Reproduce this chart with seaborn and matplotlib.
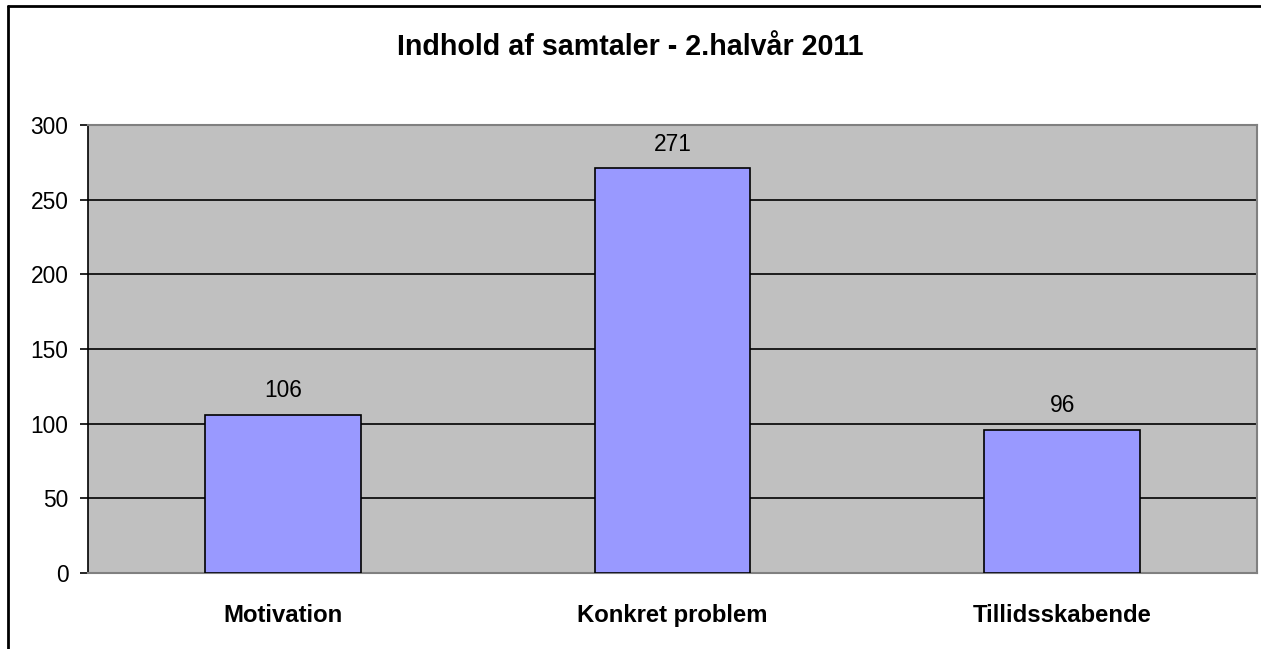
import numpy as np
import pandas as pd
import seaborn as sns
import matplotlib.pyplot as plt
from matplotlib.lines import Line2D

# data
kategorier = ['Motivation', 'Konkret problem', 'Tillidsskabende']
antal = [106, 271, 96]
y_ticks = [0, 50, 100, 150, 200, 250, 300]

df = pd.DataFrame({'kategori': kategorier, 'antal': antal})

sns.set_style('white')
plt.rcParams['font.family'] = ['Liberation Sans', 'DejaVu Sans']
plt.rcParams['text.color'] = 'black'

fig = plt.figure(figsize=(12.61, 6.49), dpi=100)
ax = fig.add_axes([88 / 1261, 76 / 649, (1257 - 88) / 1261, (573 - 125) / 649])
ax.set_facecolor('#C0C0C0')

sns.barplot(data=df, x='kategori', y='antal', color='#9999FF', width=0.4,
            edgecolor='black', linewidth=1.2, saturation=1, ax=ax, zorder=3)

ax.set_ylim(0, 300)
ax.set_xlim(-0.5, 2.5)
ax.set_yticks(y_ticks)
ax.yaxis.grid(True, color='black', linewidth=1.2, zorder=0)
ax.set_axisbelow(True)
ax.tick_params(axis='y', direction='out', length=6, width=1.2, color='black',
               labelsize=16.4, labelcolor='black', pad=8, left=True)
ax.tick_params(axis='x', length=0, labelsize=17.2, labelcolor='black', pad=22)
for lbl in ax.get_xticklabels():
    lbl.set_fontweight('bold')
ax.set_xlabel('')
ax.set_ylabel('')

for side in ['top', 'right', 'bottom']:
    ax.spines[side].set_color('#808080')
    ax.spines[side].set_linewidth(1.5)
ax.spines['left'].set_color('black')
ax.spines['left'].set_linewidth(1.2)

for i, v in enumerate(antal):
    ax.annotate(str(v), (i, v), xytext=(0, 9), textcoords='offset points',
                ha='center', va='bottom', fontsize=16.4, color='black')

fig.text(0.5, 1 - 47 / 649, 'Indhold af samtaler - 2.halvår 2011',
         ha='center', va='center', fontsize=20.6, fontweight='bold')

# outer chart frame (left and top visible)
fig.add_artist(Line2D([8 / 1261, 8 / 1261], [0, 1 - 6 / 649], color='black',
                      linewidth=2, transform=fig.transFigure))
fig.add_artist(Line2D([8 / 1261, 1], [1 - 6 / 649, 1 - 6 / 649], color='black',
                      linewidth=2, transform=fig.transFigure))

fig.savefig('out.png', dpi=100)
